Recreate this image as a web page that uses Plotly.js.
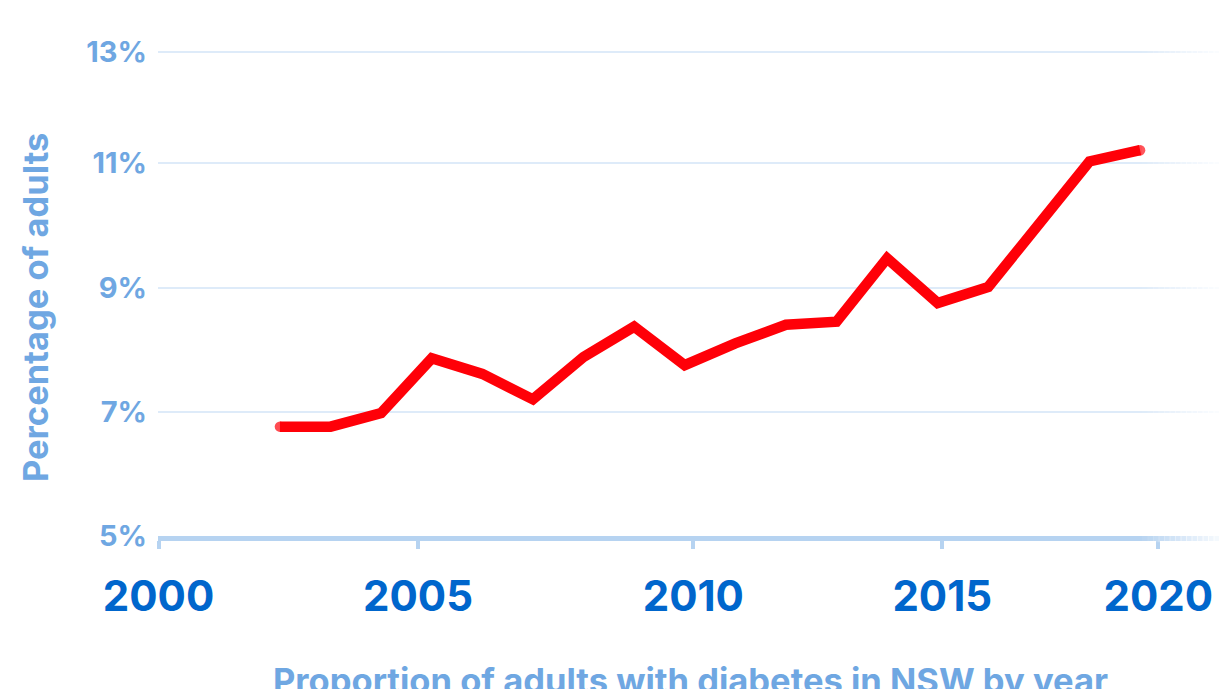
<!DOCTYPE html>
<html>
<head>
<meta charset="utf-8">
<script src="https://cdn.plot.ly/plotly-3.0.1.min.js"></script>
<style>
  html, body { margin: 0; padding: 0; background: #ffffff; }
  #chart { width: 1219px; height: 689px; }
</style>
</head>
<body>
<div id="chart"></div>
<script>
// ---- data ----
const years = [2002, 2003, 2004, 2005, 2006, 2007, 2008, 2009, 2010, 2011, 2012, 2013, 2014, 2015, 2016, 2018, 2019];
const diabetesPct = [6.76, 6.76, 6.98, 7.86, 7.61, 7.20, 7.88, 8.37, 7.75, 8.10, 8.40, 8.45, 9.47, 8.75, 9.01, 11.03, 11.21];

const xTickVals = [1999.6, 2004.73, 2010.17, 2015.09, 2019.36];
const xTickText = ['2000', '2005', '2010', '2015', '2020'];
const yTickVals = [5, 7, 9, 11, 12.79];
const yTickText = ['5%', '7%', '9%', '11%', '13%'];

const yTitle = 'Percentage of adults';
const xTitle = 'Proportion of adults with diabetes in NSW by year';

// ---- styling ----
const FONT = 'Inter, "Open Sans", "DejaVu Sans", sans-serif';
const LIGHT_BLUE = '#6fa7e2';
const DARK_BLUE = '#0066cc';
const AXIS_BLUE = '#b6d3f1';
const GRID_BLUE = '#deebf9';

const capSizes = years.map((_, i) => (i === 0 || i === years.length - 1) ? 10.5 : 0);

const trace = {
  x: years,
  y: diabetesPct,
  type: 'scatter',
  mode: 'lines+markers',
  line: { color: '#ff0008', width: 10.5, shape: 'linear' },
  marker: { color: '#ff0008', size: capSizes, line: { width: 0 } },
  hoverinfo: 'x+y',
  showlegend: false
};

// fade-out strips on the right edge (white, increasing opacity)
const fadeShapes = [];
const L = 158, W = 1061;
const fadeStart = 1142, fadeEnd = 1219, n = 14;
for (let i = 0; i < n; i++) {
  const a = fadeStart + (fadeEnd - fadeStart) * i / n;
  const b = fadeStart + (fadeEnd - fadeStart) * (i + 1) / n;
  fadeShapes.push({
    type: 'rect', xref: 'paper', yref: 'paper',
    x0: (a - L) / W, x1: (b - L) / W + 0.001,
    y0: -0.012, y1: 1,
    fillcolor: '#ffffff', opacity: 0.85 * (i + 1) / n,
    line: { width: 0 }, layer: 'above'
  });
}

const layout = {
  width: 1219,
  height: 689,
  margin: { l: 158, r: 0, t: 20, b: 153 },
  paper_bgcolor: '#ffffff',
  plot_bgcolor: '#ffffff',
  font: { family: FONT },
  xaxis: {
    range: [1999.59, 2020.56],
    tickmode: 'array',
    tickvals: xTickVals,
    ticktext: xTickText,
    showgrid: false,
    zeroline: false,
    showline: true,
    linecolor: AXIS_BLUE,
    linewidth: 5,
    ticks: 'outside',
    ticklen: 8,
    tickwidth: 4,
    tickcolor: AXIS_BLUE,
    ticklabelstandoff: 12,
    tickfont: { family: FONT, size: 42, color: DARK_BLUE, weight: 700 },
    fixedrange: true
  },
  yaxis: {
    range: [5, 13.306],
    tickmode: 'array',
    tickvals: yTickVals,
    ticktext: yTickText,
    showgrid: true,
    gridcolor: GRID_BLUE,
    gridwidth: 2,
    zeroline: false,
    showline: false,
    ticks: '',
    ticklabelstandoff: 10,
    tickfont: { family: FONT, size: 29, color: LIGHT_BLUE, weight: 700 },
    fixedrange: true
  },
  shapes: fadeShapes,
  annotations: [
    {
      text: yTitle, textangle: -90,
      xref: 'paper', yref: 'paper',
      x: (35 - L) / W, y: (536 - 308) / 516,
      xanchor: 'center', yanchor: 'middle',
      showarrow: false,
      font: { family: FONT, size: 34.5, color: LIGHT_BLUE, weight: 700 }
    },
    {
      text: xTitle,
      xref: 'paper', yref: 'paper',
      x: (690 - L) / W, y: (536 - 680) / 516,
      xanchor: 'center', yanchor: 'middle',
      showarrow: false,
      font: { family: FONT, size: 34.5, color: LIGHT_BLUE, weight: 700 }
    }
  ]
};

Plotly.newPlot('chart', [trace], layout, { displayModeBar: false, staticPlot: true });
</script>
</body>
</html>
